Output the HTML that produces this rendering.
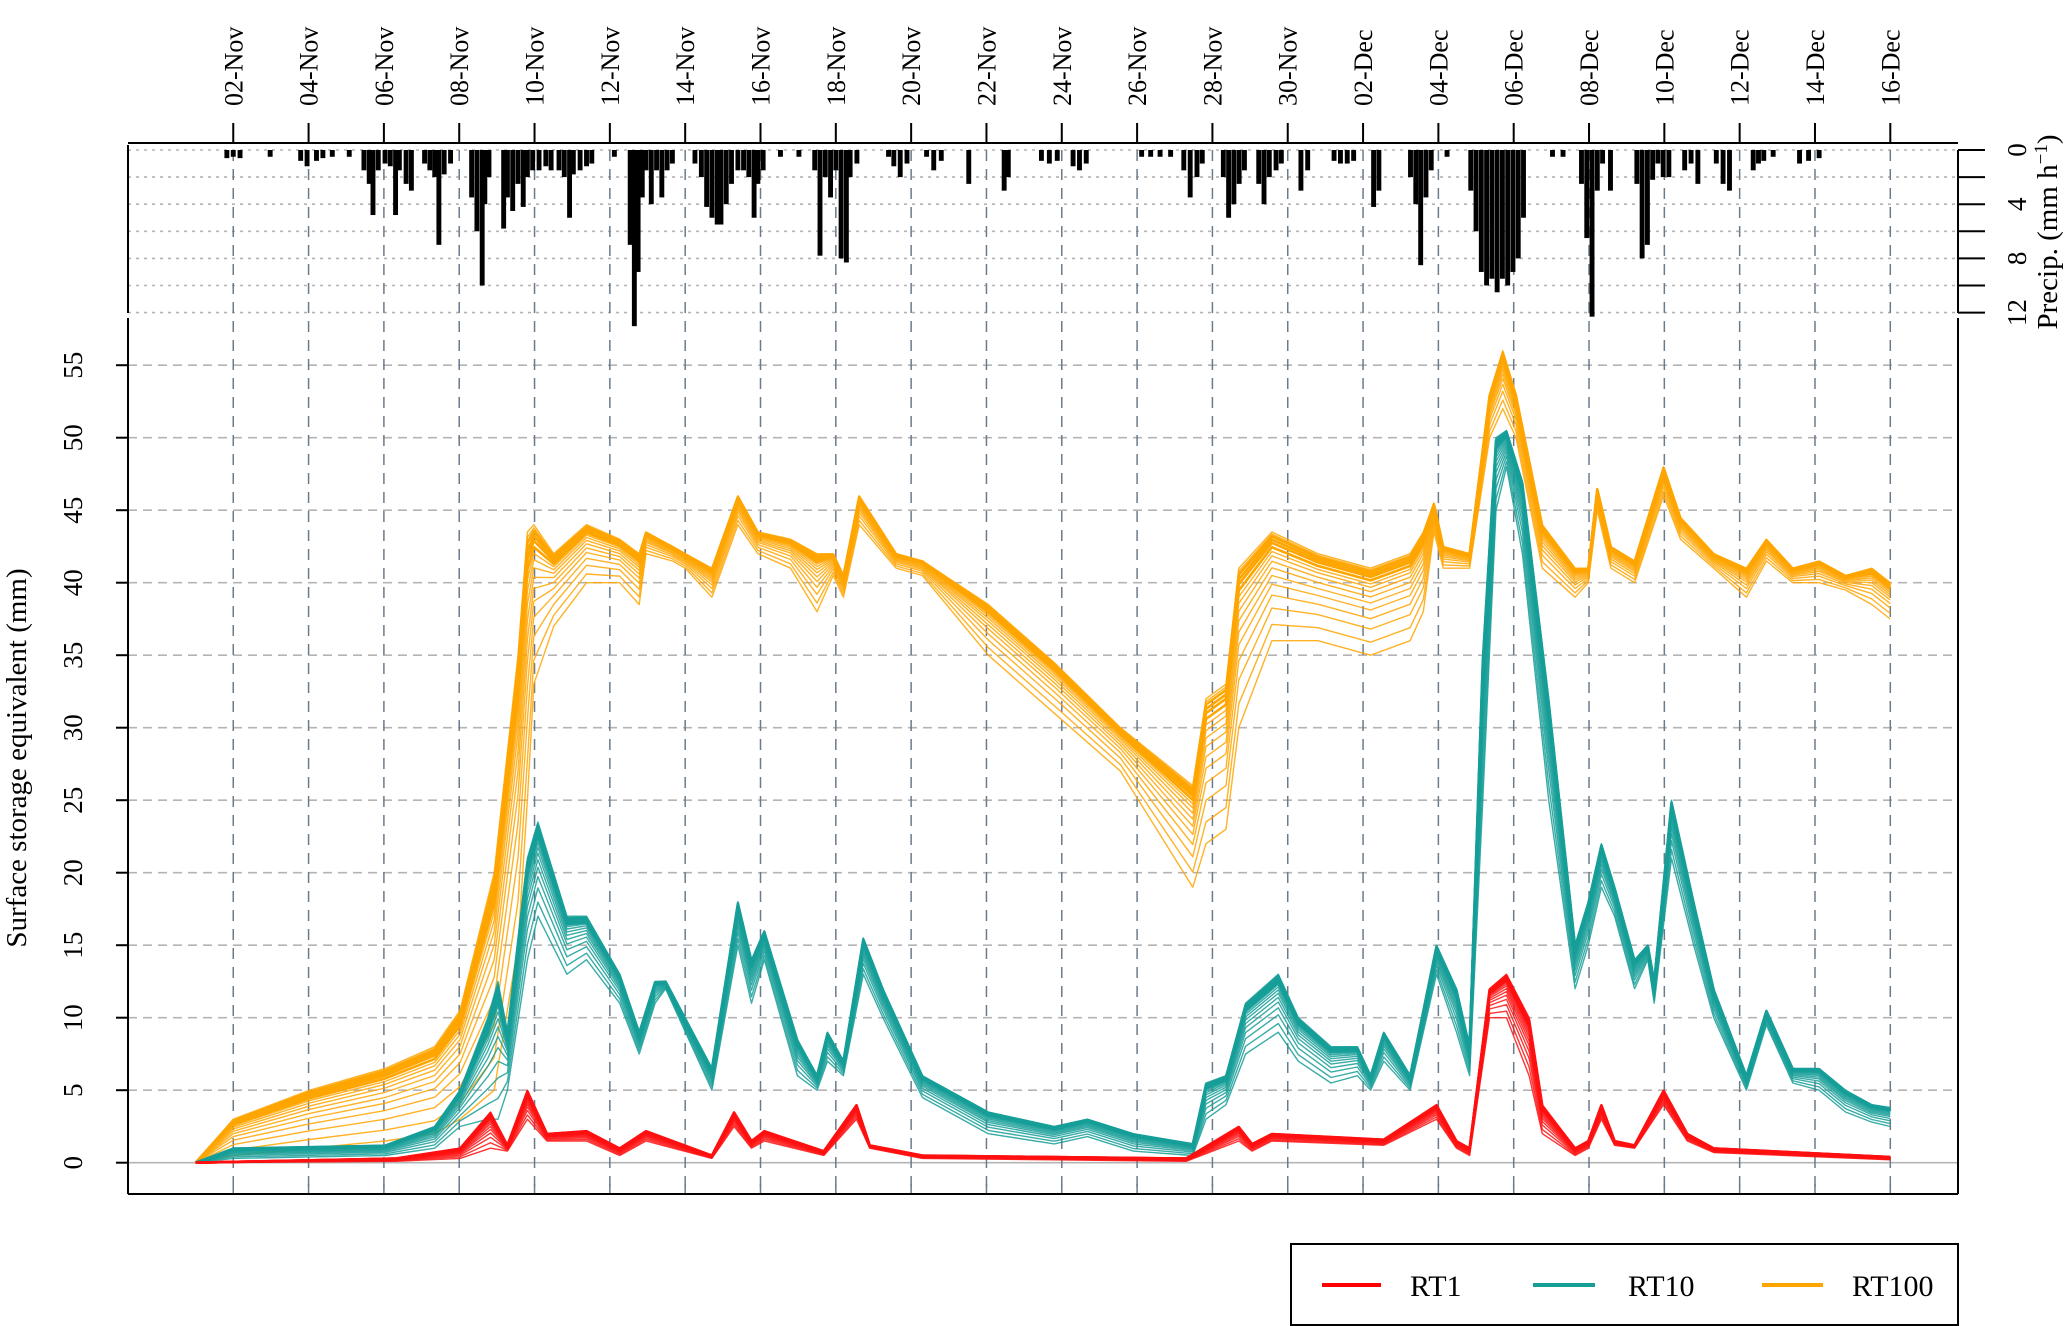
<!DOCTYPE html>
<html><head><meta charset="utf-8"><style>
html,body{margin:0;padding:0;background:#fff}
svg{display:block;font-family:"Liberation Serif",serif}
text{font-family:"Liberation Serif",serif}
</style></head><body>
<svg id="chart" width="2067" height="1326" viewBox="0 0 2067 1326" xmlns="http://www.w3.org/2000/svg" font-family="Liberation Serif, serif">
<g id="grid"></g>
<g id="precip"></g>
<g id="series"></g>
<g id="axes"></g>
<g id="legend">
  <rect x="1291" y="1244" width="667" height="81" fill="#fff" stroke="#000" stroke-width="2"/>
  <line x1="1322" y1="1285" x2="1381" y2="1285" stroke="#ff0000" stroke-width="4"/>
  <text x="1410" y="1296" font-size="30">RT1</text>
  <line x1="1533" y1="1285" x2="1595" y2="1285" stroke="#169e98" stroke-width="4"/>
  <text x="1628" y="1296" font-size="30">RT10</text>
  <line x1="1762" y1="1285" x2="1823" y2="1285" stroke="#ffa500" stroke-width="4"/>
  <text x="1852" y="1296" font-size="30">RT100</text>
</g>
</svg>
<script>
// ---- data ----
const dateLabels = ["02-Nov","04-Nov","06-Nov","08-Nov","10-Nov","12-Nov","14-Nov","16-Nov","18-Nov","20-Nov","22-Nov","24-Nov","26-Nov","28-Nov","30-Nov","02-Dec","04-Dec","06-Dec","08-Dec","10-Dec","12-Dec","14-Dec","16-Dec"];
const dateDays = [1,3,5,7,9,11,13,15,17,19,21,23,25,27,29,31,33,35,37,39,41,43,45];
const yTicks = [0,5,10,15,20,25,30,35,40,45,50,55];
const precipTicks = [0,2,4,6,8,10,12];
const precipLabels = [0,4,8,12];

const rt100T  = [0,1.0,3.03,5.03,6.35,7.02,7.93,8.56,8.81,8.98,9.51,10.38,11.26,11.78,11.96,12.66,13.0,13.71,14.4,14.93,15.8,16.5,16.93,17.2,17.62,18.6,19.3,21.05,22.8,24.56,26.48,26.83,27.36,27.7,28.58,29.8,31.2,32.25,32.6,32.88,33.13,33.83,34.36,34.71,35.06,35.76,36.63,36.98,37.22,37.58,38.21,38.98,39.43,40.31,41.18,41.71,42.41,43.11,43.81,44.51,45.0];
const rt100Lo = [0,0.5,1,1.5,2,3,5,15,25,33,37,40,40,38.5,42,41.5,41,39,44,42,41,38,40.5,39,44,41,40.5,35,31,27,19,22,23,30,36,36,35,36,38,43.5,41,41,50,52,50,41,39,40,45,41,40,46,43,41,39,41.5,40,40,39.5,38.5,37.5];
const rt100Hi = [0,3,5,6.5,8,10.5,20,35,43.5,44,42,44,43,42,43.5,42.5,42,41,46,43.5,43,42,42,40.5,46,42,41.5,38.5,34.5,30,26,32,33,41,43.5,42,41,42,43.5,45.5,42.5,42,53,56,53,44,41,41,46.5,42.5,41.5,48,44.5,42,41,43,41,41.5,40.5,41,40];

const rt10T  = [0,1.0,5.03,6.35,7.02,7.76,8.03,8.28,8.81,9.09,9.86,10.38,11.26,11.78,12.2,12.48,13.71,14.4,14.76,15.1,15.98,16.5,16.78,17.2,17.73,18.25,19.3,21.05,22.8,23.68,24.9,26.48,26.83,27.36,27.88,28.75,29.28,30.15,30.85,31.2,31.55,31.9,32.25,32.95,33.48,33.83,34.18,34.53,34.81,35.23,35.93,36.63,36.98,37.33,37.68,38.21,38.56,38.73,39.19,39.78,40.31,41.18,41.71,42.41,43.11,43.81,44.51,45.0];
const rt10Lo = [0,0.3,0.5,1,2.5,3,3,5,14,17,13,14,11,7.5,11,12,5,15,11,14,6,5,7,6,13,10,4.5,2,1.3,1.8,0.8,0.5,3,4,7.5,9,7,5.5,6,5,7,6,5,13,9,6,25,45,48,42,25,12,15,19,17,12,14,11,21,15,10,5,9.5,5.5,5,3.5,2.8,2.5];
const rt10Hi = [0,1,1.2,2.5,5,10,12.5,9,21,23.5,17,17,13,9,12.5,12.5,6.5,18,14,16,8.5,6,9,7,15.5,12,6,3.5,2.5,3,2,1.3,5.5,6,11,13,10,8,8,6,9,7.5,6,15,12,8,35,50,50.5,47,32,15,18,22,19,14,15,12.5,25,18,12,6,10.5,6.5,6.5,5,4,3.8];

const rt1T  = [0,5.31,7.02,7.83,8.28,8.81,9.33,10.38,11.26,11.96,13.71,14.3,14.76,15.1,16.68,17.55,17.9,19.3,26.3,27.7,28.05,28.58,31.55,32.95,33.48,33.83,34.36,34.81,35.41,35.76,36.63,36.98,37.33,37.68,38.21,38.98,39.61,40.31,45.0];
const rt1Lo = [0,0.1,0.3,1,0.8,3,1.5,1.5,0.5,1.5,0.3,2.5,1,1.5,0.5,3,1,0.3,0.1,1.5,0.8,1.5,1.2,3,1,0.5,10,10,6,2,0.5,1,3,1.2,1,4,1.5,0.7,0.2];
const rt1Hi = [0,0.3,1,3.5,1.2,5,2,2.2,1,2.2,0.5,3.5,1.5,2.2,0.8,4,1.2,0.5,0.3,2.5,1.3,2,1.6,4,1.5,1,12,13,10,4,1,1.5,4,1.5,1.2,5,2,1,0.4];

const memberFractions = [0,0.15,0.3,0.42,0.52,0.6,0.67,0.73,0.78,0.82,0.86,0.9,0.93,0.96,0.98,1];

const precipDay = [0.83,1.0,1.18,1.98,2.79,2.96,3.21,3.38,3.63,4.08,4.47,4.61,4.71,4.85,5.03,5.17,5.31,5.41,5.59,5.73,6.08,6.22,6.35,6.46,6.6,6.77,7.33,7.47,7.61,7.68,7.79,8.18,8.28,8.42,8.56,8.7,8.81,8.95,9.12,9.3,9.44,9.65,9.79,9.93,10.03,10.21,10.38,10.52,11.12,11.54,11.65,11.75,11.86,11.96,12.1,12.24,12.38,12.52,12.66,13.26,13.43,13.57,13.71,13.85,13.95,14.09,14.23,14.4,14.55,14.69,14.83,14.93,15.07,15.53,16.02,16.44,16.58,16.72,16.86,17.0,17.14,17.28,17.38,17.56,18.4,18.54,18.71,18.89,19.41,19.6,19.8,20.53,21.47,21.58,22.46,22.67,22.88,23.3,23.47,23.65,25.12,25.36,25.61,25.89,26.24,26.41,26.59,26.73,27.29,27.43,27.57,27.71,27.85,28.23,28.37,28.51,28.69,28.83,29.35,29.53,30.23,30.4,30.58,30.75,31.28,31.42,32.26,32.4,32.53,32.67,32.81,33.23,33.86,34.0,34.14,34.28,34.42,34.56,34.7,34.84,34.98,35.12,35.26,36.03,36.31,36.8,36.94,37.08,37.22,37.36,37.57,38.27,38.41,38.55,38.69,38.83,38.97,39.12,39.54,39.71,39.89,40.38,40.56,40.73,41.36,41.5,41.64,41.89,42.59,42.83,43.11,43.46,43.81,44.16,44.79];
const precipMm  = [0.6,0.5,0.6,0.5,0.8,1.2,0.8,0.6,0.5,0.5,1.5,2.5,4.8,1.5,1,1.2,4.8,1.5,2.5,3,1,1.5,2,7,1.8,1,3.5,6,10,4,2,5.8,3.5,4.5,2.5,4.2,2,1.5,1.5,1.2,1.5,1.5,2,5,1.8,1.5,1.2,1,0.5,7,13,9,3.5,1.5,4,1.5,3.5,1.5,1,1,2,4.2,5,5.5,5.5,4,2.5,1.5,1.5,2,5,2.5,1.5,0.5,0.5,1.5,7.8,2,3.5,1.5,8,8.3,2,1,0.5,1.2,2,1,0.5,1.5,0.8,2.5,3,2,0.8,1,0.8,1.2,1.5,1,0.5,0.5,0.5,0.5,1.5,3.5,2,1,2,5,4,2.5,1.5,2.5,4,2,1.5,1,3,1.5,0.8,1,1,0.8,4.2,3,2,4,8.5,3.5,1.5,0.5,3,6,9,10,9.5,10.5,9.5,10,9,8,5,0.5,0.5,2.5,6.5,12.3,3,1,3,2.5,8,7,2.2,1,2,2,1.5,1,2.5,1,2.5,3,1.5,1,0.8,0.5,1,0.8,0.6];

// ---- scales ----
const xs = d => 195.6 + d*37.66;
const ys = v => 1162.7 - v*14.5;
const yp = mm => 150 + mm*13.55;
const NS = "http://www.w3.org/2000/svg";
function mk(tag, attrs, parent){ const e=document.createElementNS(NS,tag); for(const k in attrs) e.setAttribute(k,attrs[k]); parent.appendChild(e); return e; }

const grid = document.getElementById('grid');
const axes = document.getElementById('axes');
const precipG = document.getElementById('precip');
const seriesG = document.getElementById('series');

yTicks.forEach(v=>{
  const l = mk('line',{x1:128,x2:1958,y1:ys(v),y2:ys(v),stroke:'#b4b4b4','stroke-width':1.6,'stroke-dasharray': v===0?'none':'9,6'},grid);
  
  
  const t = mk('line',{x1:116,x2:128,y1:ys(v),y2:ys(v),stroke:'#000','stroke-width':2},axes);
  
  
  const lab = mk('text',{x:0,y:0,'font-size':27,'text-anchor':'middle',transform:`translate(${82},${ys(v)}) rotate(-90)`},axes);
  lab.textContent = v;
  
  
});
precipTicks.forEach(v=>{
  const l = mk('line',{x1:128,x2:1958,y1:yp(v),y2:yp(v),stroke:'#b4b4b4','stroke-width':1.6,'stroke-dasharray':'3,5'},grid);
  
  
  const t = mk('line',{x1:1958,x2:1985,y1:yp(v),y2:yp(v),stroke:'#000','stroke-width':2},axes);
  
  
});
precipLabels.forEach(v=>{
  const lab = mk('text',{x:0,y:0,'font-size':27,'text-anchor':'middle',transform:`translate(${2026},${yp(v)}) rotate(-90)`},axes);
  lab.textContent = v;
  
  
});
dateDays.forEach((d,i)=>{
  const x = xs(d);
  const l = mk('line',{x1:x,x2:x,y1:150,y2:1194,stroke:'#6a7b8c','stroke-width':1.5,'stroke-dasharray':'11,8'},grid);
  
  
  const t = mk('line',{x1:x,x2:x,y1:123,y2:143,stroke:'#000','stroke-width':2},axes);
  
  
  const bt = mk('line',{x1:x,x2:x,y1:1184,y2:1194,stroke:'#6a7b8c','stroke-width':1.5},axes);
  
  
  const lab = mk('text',{x:0,y:0,'font-size':26,'text-anchor':'start',transform:`translate(${x+9},${106}) rotate(-90)`},axes);
  lab.textContent = dateLabels[i];
  
  
});

precipDay.forEach((d,i)=>{
  const w = 0.13*37.66;
  const r = mk('rect',{x:xs(d)-w/2,y:150,width:w,height:precipMm[i]*13.55,fill:'#000'},precipG);
  
  
});

function drawSeries(T,lo,hi,color,name){
  memberFractions.forEach((f,k)=>{
    const pts = T.map((d,i)=>`${xs(d).toFixed(1)},${ys(lo[i]+f*(hi[i]-lo[i])).toFixed(1)}`).join(' ');
    const thick = (f>=0.85 && f<=0.97);
    const p = mk('polyline',{points:pts,fill:'none',stroke:color,'stroke-width':thick?2.6:1.4,'stroke-linejoin':'round','stroke-opacity':thick?1:0.85},seriesG);
    
    
  });
}
drawSeries(rt100T,rt100Lo,rt100Hi,'#ffa500','rt100');
drawSeries(rt10T,rt10Lo,rt10Hi,'#169e98','rt10');
drawSeries(rt1T,rt1Lo,rt1Hi,'#ff1010','rt1');

[[128,143,1958,143,'top-border'],[128,145,128,313,'precip-left-axis'],[128,318,128,1194,'left-axis'],[1958,318,1958,1194,'right-border'],[128,1194,1958,1194,'bottom-border'],[1958,150,1958,313,'precip-right-axis']].forEach(a=>{
  const l = mk('line',{x1:a[0],y1:a[1],x2:a[2],y2:a[3],stroke:'#000','stroke-width':2},axes);
  
  
});

const yt = mk('text',{x:0,y:0,'font-size':29,'text-anchor':'middle',transform:'translate(26,758) rotate(-90)'},axes);
yt.textContent = 'Surface storage equivalent (mm)';


const pt = mk('text',{x:0,y:0,'font-size':29,'text-anchor':'middle',transform:'translate(2057,232) rotate(-90)'},axes);
pt.innerHTML = 'Precip. (mm h<tspan baseline-shift="super" font-size="19">−1</tspan>)';


</script>
</body></html>
